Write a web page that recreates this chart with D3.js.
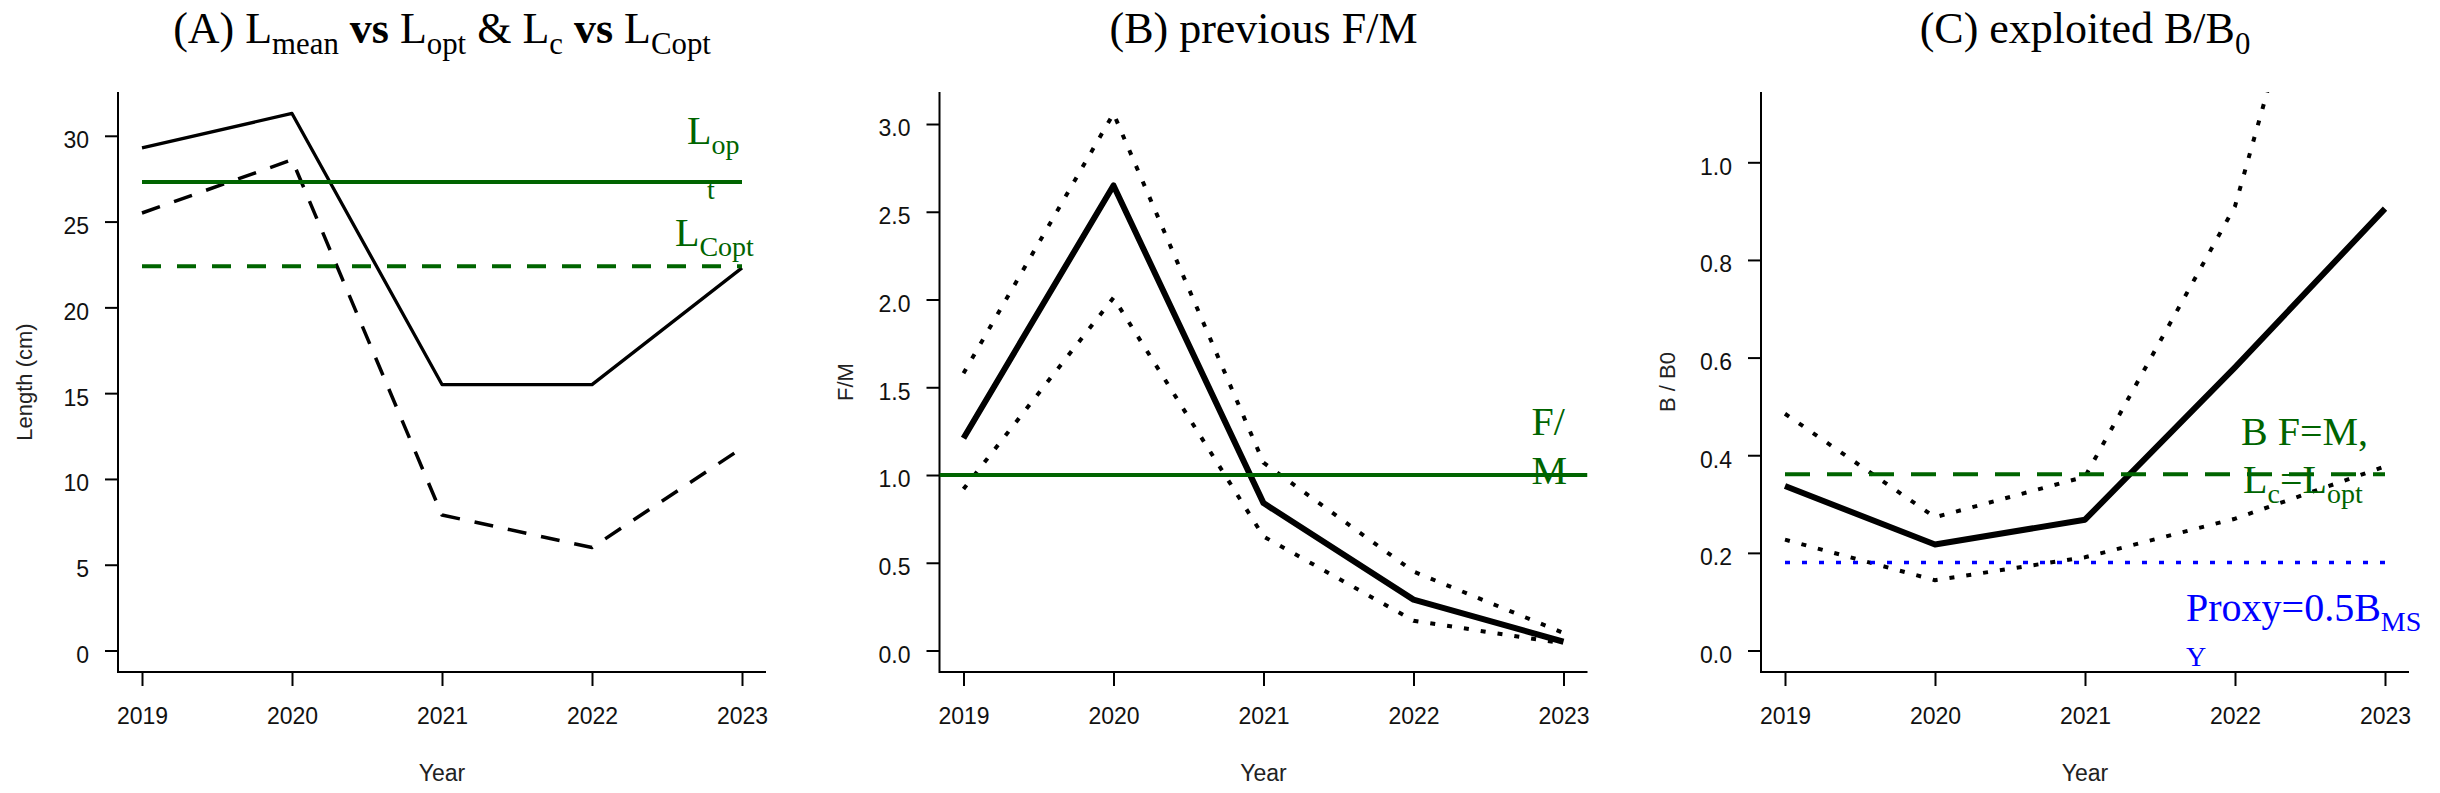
<!DOCTYPE html>
<html>
<head>
<meta charset="utf-8">
<script src="https://cdn.jsdelivr.net/npm/d3@7"></script>
<style>
  body { margin: 0; background: #fff; }
  text { font-family: "Liberation Sans", Arial, sans-serif; }
  .serif { font-family: "Liberation Serif", "Times New Roman", serif; }
</style>
</head>
<body>
<div id="chart"></div>
<script>
// years on the x axis of every panel
var years = [2019, 2020, 2021, 2022, 2023];

// (A) lengths, cm
var lMean = [29.3, 31.3, 15.5, 15.5, 22.3];
var lC = [25.5, 28.6, 7.9, 6.0, 11.8];
var lOpt = 27.3;
var lCopt = 22.4;
var lenTicks = [0, 5, 10, 15, 20, 25, 30];

// (B) F/M with confidence limits
var fmMid = [1.21, 2.65, 0.84, 0.29, 0.05];
var fmUpper = [1.58, 3.06, 1.07, 0.45, 0.10];
var fmLower = [0.92, 2.01, 0.65, 0.17, 0.04];
var fmRef = 1.0;
var fmTicks = [0, 0.5, 1, 1.5, 2, 2.5, 3];

// (C) B/B0 with confidence limits
var bbMid = [0.337, 0.217, 0.268, 0.58, 0.905];
var bbUpper = [0.485, 0.273, 0.356, 0.91, 2.0];
var bbLower = [0.227, 0.144, 0.191, 0.27, 0.377];
var bbFM = 0.361;
var bbProxy = 0.1805;
var bbTicks = [0, 0.2, 0.4, 0.6, 0.8, 1.0];

var width = 2440, height = 793;
var panelStep = 821.5;
var plotLeft = 118, plotRight = 766, plotTop = 92, plotBottom = 672;
var green = "#006400";

var svg = d3.select("#chart")
  .append("svg")
  .attr("width", width)
  .attr("height", height);

svg.append("rect").attr("width", width).attr("height", height).attr("fill", "#fff");

// text with plotmath-like subscripts: parts = [[text, "n"|"s"|"b"], ...]
function mathText(g, px, py, parts, size, color, anchor) {
  var t = g.append("text")
    .attr("class", "serif")
    .attr("x", px)
    .attr("y", py)
    .attr("font-size", size)
    .attr("fill", color)
    .attr("text-anchor", anchor || "start");
  var shift = 0;
  parts.forEach(function(p) {
    var target = p[1] == "s" ? size * 0.24 : 0;
    var sp = t.append("tspan")
      .attr("dy", target - shift)
      .text(p[0]);
    if (p[1] == "s") sp.attr("font-size", size * 0.7);
    if (p[1] == "b") sp.attr("font-weight", "bold");
    shift = target;
  });
  return t;
}

function makePanel(i, ylim, yTicks, yFmt, yLabel, title) {
  var g = svg.append("g").attr("transform", "translate(" + (i * panelStep) + ",0)");
  var x = d3.scaleLinear()
    .domain([years[0] - 0.16, years[years.length - 1] + 0.16])
    .range([plotLeft, plotRight]);
  var pad = (ylim[1] - ylim[0]) * 0.04;
  var y = d3.scaleLinear()
    .domain([ylim[0] - pad, ylim[1] + pad])
    .range([plotBottom, plotTop]);

  svg.append("clipPath").attr("id", "clip" + i)
    .append("rect")
    .attr("x", plotLeft + i * panelStep).attr("y", plotTop)
    .attr("width", plotRight - plotLeft).attr("height", plotBottom - plotTop);

  var xAxis = g.append("g")
    .attr("transform", "translate(0," + plotBottom + ")")
    .call(d3.axisBottom(x).tickValues(years).tickFormat(d3.format("d")).tickSize(14).tickPadding(22));
  var yAxis = g.append("g")
    .attr("transform", "translate(" + plotLeft + ",0)")
    .call(d3.axisLeft(y).tickValues(yTicks).tickFormat(yFmt).tickSize(13).tickPadding(16));
  [xAxis, yAxis].forEach(function(a) {
    a.select(".domain").remove();
    a.selectAll(".tick line").attr("stroke", "#000").attr("stroke-width", 2);
    a.selectAll("text").attr("font-size", 23).attr("fill", "#111")
      .attr("font-family", "Liberation Sans, Arial, sans-serif");
  });
  yAxis.selectAll("text").attr("dy", "0.52em");

  // L-shaped box
  g.append("path")
    .attr("d", "M" + plotLeft + "," + plotTop + "V" + plotBottom + "H" + plotRight)
    .attr("fill", "none").attr("stroke", "#000").attr("stroke-width", 2);

  g.append("text")
    .attr("x", (plotLeft + plotRight) / 2).attr("y", 781)
    .attr("text-anchor", "middle").attr("font-size", 23).attr("fill", "#222")
    .text("Year");

  g.append("text")
    .attr("transform", "translate(24," + ((plotTop + plotBottom) / 2) + ") rotate(-90)")
    .attr("text-anchor", "middle").attr("dy", "0.35em")
    .attr("font-size", 22).attr("fill", "#222")
    .text(yLabel);

  mathText(g, (plotLeft + plotRight) / 2, 43, title, 44, "#000", "middle");

  var plot = g.append("g").attr("clip-path", "url(#clip" + i + ")")
    .attr("transform", "translate(" + (-i * panelStep) + ",0)")
    .append("g").attr("transform", "translate(" + (i * panelStep) + ",0)");

  return { g: g, plot: plot, x: x, y: y };
}

function series(p, values, stroke, sw, dash) {
  var line = d3.line()
    .x(function(d, k) { return p.x(years[k]); })
    .y(function(d) { return p.y(d); });
  var path = p.plot.append("path")
    .datum(values)
    .attr("d", line)
    .attr("fill", "none")
    .attr("stroke", stroke)
    .attr("stroke-width", sw)
    .attr("stroke-linejoin", "round");
  if (dash) path.attr("stroke-dasharray", dash);
  return path;
}

function hline(p, value, x0, x1, stroke, sw, dash) {
  var path = p.plot.append("line")
    .attr("x1", x0).attr("x2", x1)
    .attr("y1", p.y(value)).attr("y2", p.y(value))
    .attr("stroke", stroke).attr("stroke-width", sw);
  if (dash) path.attr("stroke-dasharray", dash);
  return path;
}

// ---------- (A) ----------
var pA = makePanel(0, [0, 31.3], lenTicks, d3.format("d"), "Length (cm)",
  [["(A) L", "n"], ["mean", "s"], [" vs ", "b"], ["L", "n"], ["opt", "s"],
   [" & L", "n"], ["c", "s"], [" vs ", "b"], ["L", "n"], ["Copt", "s"]]);
series(pA, lMean, "#000", 3.3);
series(pA, lC, "#000", 3.5, "19,15");
hline(pA, lOpt, pA.x(years[0]), pA.x(years[4]), green, 4);
hline(pA, lCopt, pA.x(years[0]), pA.x(years[4]), green, 4, "19,16");
mathText(pA.g, pA.x(2023) - 55, pA.y(lOpt) - 38, [["L", "n"], ["op", "s"]], 40, green);
mathText(pA.g, pA.x(2023) - 35, pA.y(lOpt) + 17, [["t", "n"]], 28, green);
mathText(pA.g, pA.x(2023) - 67, pA.y(lCopt) - 20, [["L", "n"], ["Copt", "s"]], 40, green);

// ---------- (B) ----------
var pB = makePanel(1, [0, 3.06], fmTicks, d3.format(".1f"), "F/M",
  [["(B) previous F/M", "n"]]);
series(pB, fmUpper, "#000", 4, "5,12");
series(pB, fmLower, "#000", 4, "5,12");
series(pB, fmMid, "#000", 6);
hline(pB, fmRef, plotLeft, plotRight, green, 4);
mathText(pB.g, pB.x(2023) - 32, pB.y(fmRef) - 40, [["F/", "n"]], 40, green);
mathText(pB.g, pB.x(2023) - 32, pB.y(fmRef) + 9, [["M", "n"]], 40, green);

// ---------- (C) ----------
var pC = makePanel(2, [0, 1.1], bbTicks, d3.format(".1f"), "B / B0",
  [["(C) exploited B/B", "n"], ["0", "s"]]);
series(pC, bbUpper, "#000", 4, "5,12");
series(pC, bbLower, "#000", 4, "5,12");
series(pC, bbMid, "#000", 6);
hline(pC, bbFM, pC.x(years[0]), pC.x(years[4]), green, 4, "25,17");
hline(pC, bbProxy, pC.x(years[0]), pC.x(years[4]), "#0000ff", 3.5, "5,12");
mathText(pC.g, pC.x(2023) - 144, pC.y(bbFM) - 29, [["B F=M,", "n"]], 40, green);
mathText(pC.g, pC.x(2023) - 142, pC.y(bbFM) + 19,
  [["L", "n"], ["c", "s"], ["=L", "n"], ["opt", "s"]], 40, green);
mathText(pC.g, pC.x(2023) - 199, pC.y(bbProxy) + 59, [["Proxy=0.5B", "n"], ["MS", "s"]], 40, "#0000ff");
mathText(pC.g, pC.x(2023) - 199, pC.y(bbProxy) + 104, [["Y", "n"]], 28, "#0000ff");
</script>
</body>
</html>
